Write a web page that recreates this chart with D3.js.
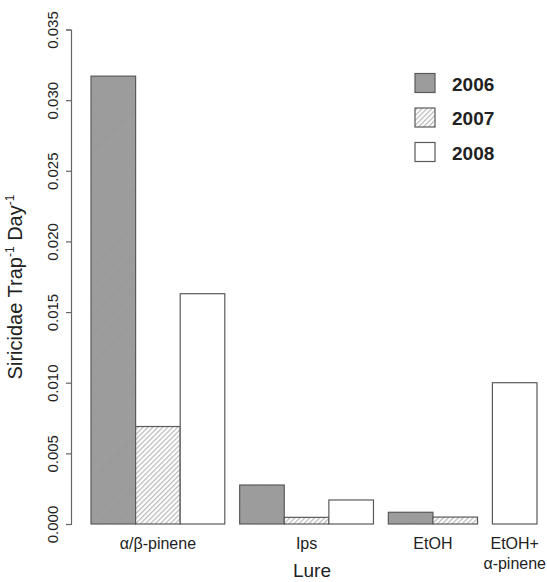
<!DOCTYPE html>
<html><head><meta charset="utf-8">
<script src="https://cdn.jsdelivr.net/npm/d3@7"></script>
<style>body{margin:0;background:#fff}svg{display:block}</style>
</head><body>
<svg id="c" width="547" height="582"></svg>
<script>
const lures = ["α/β-pinene", "Ips", "EtOH", "EtOH+α-pinene"];
const years = ["2006", "2007", "2008"];
// values per lure, per year (null = no bar drawn)
const v2006 = [0.0317, 0.00276, 0.00083, null];
const v2007 = [0.0069, 0.00047, 0.00049, null];
const v2008 = [0.0163, 0.0017, null, 0.0100];
const yTicks = [0, 0.005, 0.010, 0.015, 0.020, 0.025, 0.030, 0.035];

const svg = d3.select("#c");
const font = "Liberation Sans, Arial, Helvetica, sans-serif";
const defs = svg.append("defs");
const p1 = defs.append("pattern").attr("id","h2006").attr("patternUnits","userSpaceOnUse")
  .attr("width",2).attr("height",2).attr("patternTransform","rotate(45)");
p1.append("rect").attr("width",2).attr("height",2).attr("fill","#a3a3a3");
p1.append("rect").attr("width",1).attr("height",2).attr("fill","#959595");
const p2 = defs.append("pattern").attr("id","h2007").attr("patternUnits","userSpaceOnUse")
  .attr("width",3.5).attr("height",3.5).attr("patternTransform","rotate(45)");
p2.append("rect").attr("width",3.5).attr("height",3.5).attr("fill","#fff");
p2.append("rect").attr("width",1.3).attr("height",3.5).attr("fill","#bdbdbd");
const fills = {"2006":"url(#h2006)","2007":"url(#h2007)","2008":"#fff"};

const y = d3.scaleLinear().domain([0, 0.035]).range([524, 29.5]);

// bar layout: bars of unit width, groups separated by 1/3 unit; missing bars take no slot
const series = {"2006": v2006, "2007": v2007, "2008": v2008};
const slots = [];
let pos = 0;
const groupSpan = [];
lures.forEach((l, i) => {
  const start = pos;
  years.forEach(yr => {
    const val = series[yr][i];
    if (val !== null) { slots.push({lure: l, year: yr, value: val, x0: pos}); pos += 1; }
  });
  groupSpan.push({lure: l, x0: start, x1: pos});
  pos += 1/3;
});
const x = d3.scaleLinear().domain([0, 10]).range([91, 91 + 10 * 44.6]);

svg.append("g").selectAll("rect").data(slots).join("rect")
  .attr("x", d => x(d.x0)).attr("width", d => x(d.x0 + 1) - x(d.x0))
  .attr("y", d => y(d.value)).attr("height", d => y(0) - y(d.value))
  .attr("fill", d => fills[d.year]).attr("stroke", "#5a5a5a").attr("stroke-width", 1.2);

// y axis
const ax = svg.append("g").attr("transform", "translate(71,0)")
  .call(d3.axisLeft(y).tickValues(yTicks).tickSize(5).tickFormat(d3.format(".3f")));
ax.select(".domain").attr("stroke", "#666").attr("stroke-width", 1.2);
ax.selectAll(".tick line").attr("stroke", "#666").attr("stroke-width", 1.2);
ax.selectAll(".tick text").attr("font-family", font).attr("font-size", 15).attr("fill", "#222")
  .attr("transform", "rotate(-90)").attr("x", 0).attr("y", -13).attr("dy", "0").attr("text-anchor", "middle");

// y title
const yt = svg.append("text").attr("transform", "translate(22,287) rotate(-90)")
  .attr("text-anchor", "middle").attr("font-family", font).attr("font-size", 20).attr("fill", "#222");
yt.append("tspan").text("Siricidae Trap");
yt.append("tspan").attr("font-size", 12).attr("dy", -8).text("-1");
yt.append("tspan").attr("dy", 8).text(" Day");
yt.append("tspan").attr("font-size", 12).attr("dy", -8).text("-1");

// x labels
groupSpan.forEach(g => {
  const cx = (x(g.x0) + x(g.x1)) / 2;
  const parts = g.lure === "EtOH+α-pinene" ? ["EtOH+", "α-pinene"] : [g.lure];
  parts.forEach((t, k) => {
    svg.append("text").attr("x", cx).attr("y", 549 + k * 20).attr("text-anchor", "middle")
      .attr("font-family", font).attr("font-size", 16).attr("fill", "#222").text(t);
  });
});
svg.append("text").attr("x", 312).attr("y", 577).attr("text-anchor", "middle")
  .attr("font-family", font).attr("font-size", 19).attr("fill", "#222").text("Lure");

// legend
years.forEach((yr, i) => {
  const gy = 73.5 + i * 34.5;
  svg.append("rect").attr("x", 415).attr("y", gy).attr("width", 20).attr("height", 19)
    .attr("fill", fills[yr]).attr("stroke", "#5a5a5a").attr("stroke-width", 1.2);
  svg.append("text").attr("x", 452).attr("y", gy + 17).attr("font-family", font)
    .attr("font-size", 19).attr("font-weight", "bold").attr("fill", "#222").text(yr);
});
</script>
</body></html>
